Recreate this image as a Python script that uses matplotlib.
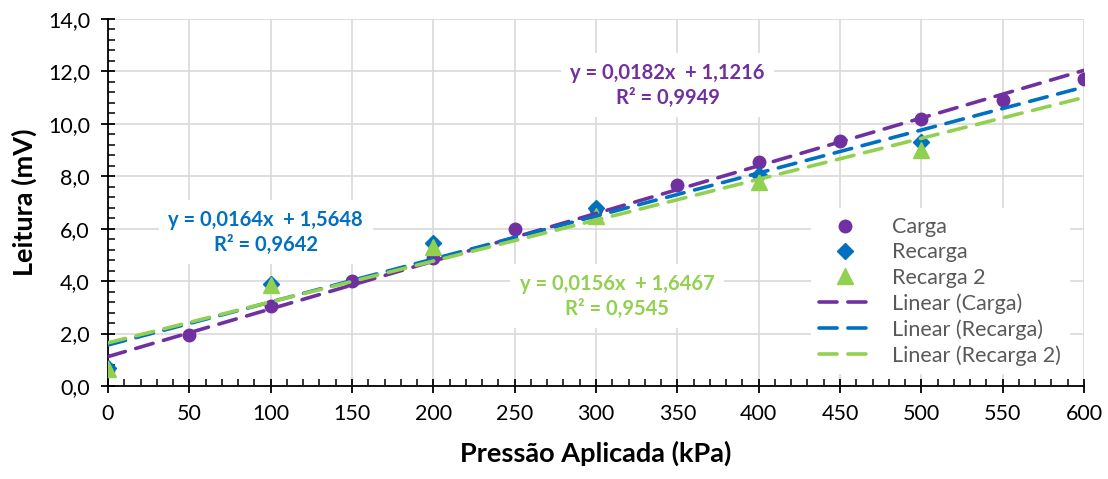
import matplotlib
matplotlib.use("Agg")
import matplotlib.pyplot as plt
import numpy as np
from matplotlib.ticker import MultipleLocator, FuncFormatter

# data
pressao_carga = [0, 50, 100, 150, 200, 250, 300, 350, 400, 450, 500, 550, 600]
carga = [0.6, 1.95, 3.05, 4.0, 4.9, 6.0, 6.75, 7.65, 8.55, 9.35, 10.2, 10.92, 11.72]

pressao_recarga = [0, 100, 200, 300, 400, 500]
recarga = [0.7, 3.9, 5.45, 6.8, 8.05, 9.3]
recarga2 = [0.65, 3.85, 5.3, 6.5, 7.8, 9.0]

# trend line coefficients as printed on the chart
slopes = [0.0182, 0.0164, 0.0156]
intercepts = [1.1216, 1.5648, 1.6467]
r2 = ["0,9949", "0,9642", "0,9545"]

roxo = "#7030A0"
azul = "#0070C0"
verde = "#92D050"

plt.rcParams['font.family'] = ['Lato', 'DejaVu Sans']

fig = plt.figure(figsize=(11.08, 4.79), dpi=100)
ax = fig.add_axes([108 / 1108, 1 - 386 / 479, (1084 - 108) / 1108, (386 - 19) / 479])

ax.plot(pressao_carga, carga, 'o', color=roxo, markersize=9, label='Carga', zorder=3)
ax.plot(pressao_recarga, recarga, 'D', color=azul, markersize=8, label='Recarga', zorder=3)
ax.plot(pressao_recarga, recarga2, '^', color=verde, markersize=11, label='Recarga 2', zorder=3)

xl = np.array([0, 600])
nomes = ['Linear (Carga)', 'Linear (Recarga)', 'Linear (Recarga 2)']
for m, b, c, n in zip(slopes, intercepts, [roxo, azul, verde], nomes):
    ax.plot(xl, m * xl + b, color=c, lw=2.6, dashes=(5, 3), dash_capstyle='round',
            label=n, zorder=4)

# equation labels
posicoes = [(344, 11.48), (97, 5.87), (313, 3.43)]
for m, b, r, c, (px, py) in zip(slopes, intercepts, r2, [roxo, azul, verde], posicoes):
    txt = "y = " + f"{m:.4f}".replace('.', ',') + "x  + " + f"{b:.4f}".replace('.', ',') + "\nR² = " + r
    ax.text(px, py, txt, color=c, fontsize=14.5, fontweight='bold', ha='center', va='center',
            linespacing=1.3, zorder=5,
            bbox=dict(facecolor='white', edgecolor='none', pad=7))

ax.set_xlim(0, 600)
ax.set_ylim(0, 14)
ax.xaxis.set_major_locator(MultipleLocator(50))
ax.xaxis.set_minor_locator(MultipleLocator(10))
ax.yaxis.set_major_locator(MultipleLocator(2))
ax.yaxis.set_minor_locator(MultipleLocator(0.4))
ax.yaxis.set_major_formatter(FuncFormatter(lambda v, p: f"{v:.1f}".replace('.', ',')))

ax.grid(True, which='major', color='#d9d9d9', lw=1.2, zorder=0)
ax.set_axisbelow(True)
for s in ['top', 'right']:
    ax.spines[s].set_visible(False)
for s in ['left', 'bottom']:
    ax.spines[s].set_linewidth(1.3)
ax.tick_params(which='major', direction='inout', length=10, width=1.3, labelsize=15.5, pad=8)
ax.tick_params(which='minor', direction='in', length=5, width=1.1)

ax.set_xlabel('Pressão Aplicada (kPa)', fontsize=19.5, fontweight='bold', labelpad=12)
ax.set_ylabel('Leitura (mV)', fontsize=19.5, fontweight='bold', labelpad=8)

leg = ax.legend(loc='lower right', bbox_to_anchor=(0.99, 0.02), frameon=True, fontsize=15.5,
                handlelength=2.4, labelspacing=0.25, borderaxespad=0.2, handletextpad=1.0)
leg.get_frame().set_edgecolor('none')
leg.get_frame().set_facecolor('white')
leg.get_frame().set_alpha(1)
for t in leg.get_texts():
    t.set_color('#595959')
leg.set_zorder(6)

fig.savefig('out.png', dpi=100)
